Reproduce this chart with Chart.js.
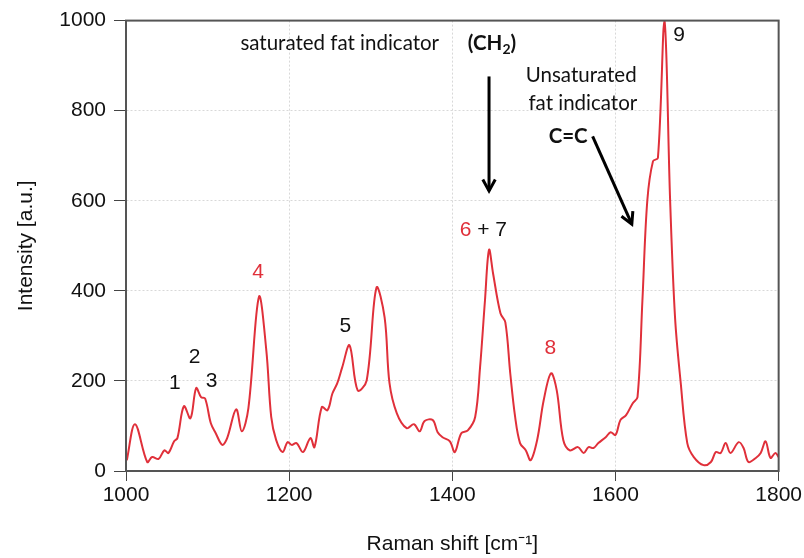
<!DOCTYPE html>
<html>
<head>
<meta charset="utf-8">
<script src="https://cdn.jsdelivr.net/npm/chart.js@4"></script>
<style>
  body { margin: 0; background: #fff; }
  #wrap { width: 804px; height: 558px; }
</style>
</head>
<body>
<div id="wrap"><canvas id="myChart"></canvas></div>
<script>
// spectrum
const ramanShift = [1001, 1011, 1026, 1032, 1040, 1047, 1052, 1059, 1063, 1071, 1079, 1086, 1092, 1097, 1104, 1110, 1118, 1124, 1135, 1142, 1150, 1163, 1172, 1178, 1184, 1192, 1198, 1203, 1209, 1217, 1226, 1231, 1240, 1247, 1253, 1259, 1265, 1274, 1284, 1295, 1307, 1317, 1323, 1332, 1344, 1353, 1360, 1366, 1376, 1382, 1388, 1397, 1403, 1411, 1419, 1428, 1434, 1440, 1445, 1450, 1459, 1465, 1471, 1477, 1483, 1490, 1496, 1504, 1512, 1521, 1528, 1536, 1544, 1554, 1561, 1567, 1573, 1579, 1588, 1594, 1600, 1606, 1613, 1621, 1627, 1633, 1639, 1646, 1652, 1660, 1667, 1673, 1680, 1688, 1696, 1708, 1717, 1723, 1729, 1735, 1741, 1751, 1757, 1763, 1772, 1778, 1784, 1790, 1796, 1800];
const intensity = [24, 104, 20, 31, 27, 46, 40, 66, 73, 144, 117, 184, 164, 161, 106, 84, 58, 73, 137, 88, 139, 387, 268, 120, 69, 42, 64, 58, 62, 42, 73, 53, 142, 135, 172, 195, 230, 279, 179, 201, 407, 341, 195, 128, 95, 104, 88, 111, 113, 86, 75, 66, 42, 84, 90, 120, 230, 378, 491, 438, 350, 330, 217, 120, 62, 46, 24, 69, 157, 217, 179, 69, 46, 53, 40, 53, 51, 62, 75, 86, 80, 113, 124, 150, 164, 378, 600, 688, 695, 1000, 600, 341, 195, 62, 31, 13, 20, 42, 40, 62, 40, 64, 51, 20, 29, 40, 66, 29, 40, 31];

const xTicks = [1000, 1200, 1400, 1600, 1800];
const yTicks = [0, 200, 400, 600, 800, 1000];

// peak labels: text, x, y, colour
const peakText = ["1", "2", "3", "4", "5", "8", "9"];
const peakX = [1060, 1084, 1105, 1162, 1269, 1520, 1678];
const peakY = [195, 252, 199, 442, 321, 272, 967];
const peakRed = [false, false, false, true, false, true, false];

const RED = "#e0303a";
const ARIAL = "'Liberation Sans', Arial, sans-serif";
const CALIBRI = "Lato, 'Open Sans', sans-serif";

const data = ramanShift.map((x, i) => ({ x: x, y: intensity[i] }));

const annotations = {
  id: "annotations",
  afterDatasetsDraw(chart) {
    const c = chart.ctx;
    const xs = chart.scales.x, ys = chart.scales.y;
    const px = v => xs.getPixelForValue(v);
    const py = v => ys.getPixelForValue(v);
    c.save();
    c.textBaseline = "middle";
    c.textAlign = "center";

    // numbered peaks
    c.font = "21px " + ARIAL;
    peakText.forEach((t, i) => {
      c.fillStyle = peakRed[i] ? RED : "#111";
      c.fillText(t, px(peakX[i]), py(peakY[i]));
    });
    // 6 + 7
    c.textAlign = "left";
    let x0 = px(1409), y0 = py(534);
    c.fillStyle = RED;
    c.fillText("6", x0, y0);
    c.fillStyle = "#111";
    c.fillText(" + 7", x0 + c.measureText("6").width, y0);

    // saturated fat indicator
    c.font = "20.5px " + CALIBRI;
    c.textAlign = "center";
    c.fillText("saturated fat indicator", px(1262), py(949));
    c.font = "bold 20.5px " + CALIBRI;
    c.textAlign = "left";
    let cx = px(1419), cy = py(949);
    c.fillText("(CH", cx, cy);
    let w = c.measureText("(CH").width;
    c.font = "bold 14px " + CALIBRI;
    c.fillText("2", cx + w, cy + 6);
    let w2 = c.measureText("2").width;
    c.font = "bold 20.5px " + CALIBRI;
    c.fillText(")", cx + w + w2, cy);

    // unsaturated fat indicator
    c.font = "20.5px " + CALIBRI;
    c.textAlign = "center";
    c.fillText("Unsaturated", px(1558), py(878));
    c.fillText("fat indicator", px(1560), py(816));
    c.font = "bold 20.5px " + CALIBRI;
    c.fillText("C=C", px(1542), py(743));

    // arrows
    const arrow = (x1, y1, x2, y2) => {
      const a = px(x1), b = py(y1), d = px(x2), e = py(y2);
      const ang = Math.atan2(e - b, d - a);
      c.strokeStyle = "#000";
      c.lineWidth = 3;
      c.beginPath();
      c.moveTo(a, b);
      c.lineTo(d, e);
      c.stroke();
      c.beginPath();
      c.moveTo(d - 13 * Math.cos(ang - 0.5), e - 13 * Math.sin(ang - 0.5));
      c.lineTo(d, e);
      c.lineTo(d - 13 * Math.cos(ang + 0.5), e - 13 * Math.sin(ang + 0.5));
      c.stroke();
    };
    arrow(1445, 876, 1445, 622);
    arrow(1572, 743, 1620, 548);

    // frame
    const a = chart.chartArea;
    c.strokeStyle = "#555";
    c.lineWidth = 2;
    c.strokeRect(a.left, a.top, a.right - a.left, a.bottom - a.top);
    c.restore();
  }
};

new Chart(document.getElementById("myChart"), {
  type: "scatter",
  data: {
    datasets: [{
      data: data,
      showLine: true,
      borderColor: RED,
      borderWidth: 2,
      pointRadius: 0,
      tension: 0.35,
      fill: false
    }]
  },
  options: {
    responsive: true,
    maintainAspectRatio: false,
    animation: false,
    layout: { padding: { top: 19, right: 24, left: 0, bottom: 0 } },
    plugins: { legend: { display: false }, tooltip: { enabled: false } },
    scales: {
      x: {
        type: "linear",
        min: 1000,
        max: 1800,
        afterBuildTicks: s => { s.ticks = xTicks.map(v => ({ value: v })); },
        afterFit: s => { s.height = 87; },
        grid: { color: "#d8d8d8", tickColor: "#444", tickLength: 10, tickBorderDash: [] },
        border: { color: "#444", width: 1.5, dash: [2, 2] },
        ticks: { color: "#111", padding: 2, callback: v => String(v), font: { family: ARIAL, size: 21 } },
        title: { display: true, text: "Raman shift [cm\u207B\u00B9]", color: "#111", padding: { top: 0, bottom: 1 }, font: { family: ARIAL, size: 21 } }
      },
      y: {
        min: 0,
        max: 1000,
        afterBuildTicks: s => { s.ticks = yTicks.map(v => ({ value: v })); },
        afterFit: s => { s.width = 126; },
        grid: { color: "#d8d8d8", tickColor: "#444", tickLength: 12, tickBorderDash: [] },
        border: { color: "#444", width: 1.5, dash: [2, 2] },
        ticks: { color: "#111", padding: 8, callback: v => String(v), font: { family: ARIAL, size: 21 } },
        title: { display: true, text: "Intensity [a.u.]", color: "#111", padding: { top: 14, bottom: 0 }, font: { family: ARIAL, size: 21 } }
      }
    }
  },
  plugins: [annotations]
});
</script>
</body>
</html>
